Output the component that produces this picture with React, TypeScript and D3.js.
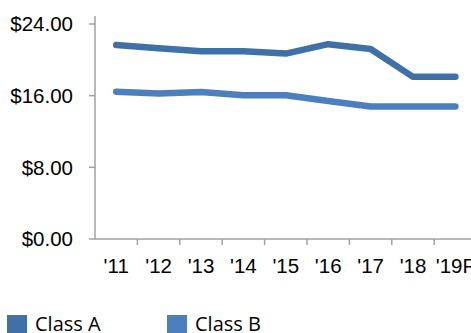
import { useEffect, useRef } from 'react';
import * as d3 from 'd3';

const categories = ["'11", "'12", "'13", "'14", "'15", "'16", "'17", "'18", "'19F"];
const classA = [21.65, 21.3, 20.95, 20.95, 20.7, 21.75, 21.2, 18.1, 18.1];
const classB = [16.45, 16.25, 16.4, 16.05, 16.05, 15.4, 14.8, 14.8, 14.8];
const yTicks = [0, 8, 16, 24];

const seriesNames = ['Class A', 'Class B'];
const seriesColors = ['#4070A8', '#4C7FBE'];

export default function App() {
  const svgRef = useRef<SVGSVGElement>(null);

  useEffect(() => {
    if (!svgRef.current) return;
    const width = 471;
    const height = 333;
    const svg = d3.select(svgRef.current);
    svg.selectAll('*').remove();

    const left = 95;
    const bandW = 42.4;
    const x = d3.scaleBand()
      .domain(categories)
      .range([left, left + bandW * categories.length])
      .padding(0);

    const y = d3.scaleLinear().domain([0, 24]).range([239, 24]);

    const axisColor = '#A0A0A0';

    // y axis
    svg.append('line')
      .attr('x1', left).attr('x2', left)
      .attr('y1', 16).attr('y2', y(0))
      .style('stroke', axisColor).style('stroke-width', 1.5);

    const yg = svg.append('g');
    yTicks.forEach(t => {
      yg.append('line')
        .attr('x1', left - 6).attr('x2', left)
        .attr('y1', y(t)).attr('y2', y(t))
        .style('stroke', axisColor).style('stroke-width', 1.5);
      yg.append('text')
        .attr('x', 73).attr('y', y(t)).attr('dy', '0.36em')
        .attr('text-anchor', 'end')
        .style('font-family', '"Liberation Sans", Arial, sans-serif')
        .style('font-size', '20.5px')
        .style('fill', '#000')
        .text(`$${t.toFixed(2)}`);
    });

    // x axis
    svg.append('line')
      .attr('x1', left).attr('x2', width + 10)
      .attr('y1', y(0)).attr('y2', y(0))
      .style('stroke', axisColor).style('stroke-width', 1.5);

    const xg = svg.append('g');
    categories.forEach((c, i) => {
      if (i > 0) {
        xg.append('line')
          .attr('x1', x(c)!).attr('x2', x(c)!)
          .attr('y1', y(0)).attr('y2', y(0) + 6)
          .style('stroke', axisColor).style('stroke-width', 1.5);
      }
      xg.append('text')
        .attr('x', x(c)! + x.bandwidth() / 2)
        .attr('y', 273)
        .attr('text-anchor', 'middle')
        .style('font-family', '"Liberation Sans", Arial, sans-serif')
        .style('font-size', '20.5px')
        .style('fill', '#000')
        .text(c);
    });
    const lastTick = x.range()[1];
    xg.append('line')
      .attr('x1', lastTick).attr('x2', lastTick)
      .attr('y1', y(0)).attr('y2', y(0) + 6)
      .style('stroke', axisColor).style('stroke-width', 1.5);

    // lines
    const line = d3.line<number>()
      .x((_, i) => x(categories[i])! + x.bandwidth() / 2)
      .y(d => y(d));

    [classA, classB].forEach((s, k) => {
      svg.append('path')
        .datum(s)
        .attr('d', line)
        .style('fill', 'none')
        .style('stroke', seriesColors[k])
        .style('stroke-width', 6.5)
        .style('stroke-linecap', 'round')
        .style('stroke-linejoin', 'round');
    });

    // legend
    const legendX = [7, 167];
    seriesNames.forEach((n, k) => {
      svg.append('rect')
        .attr('x', legendX[k]).attr('y', 315)
        .attr('width', 20).attr('height', 20)
        .style('fill', seriesColors[k]);
      svg.append('text')
        .attr('x', legendX[k] + 28).attr('y', 331)
        .style('font-family', '"Open Sans", "Noto Sans", sans-serif')
        .style('font-size', '20px')
        .style('fill', '#000')
        .text(n);
    });

    svg.attr('width', width).attr('height', height);
  }, []);

  return (
    <svg
      ref={svgRef}
      width={471}
      height={333}
      style={{ position: 'absolute', left: 0, top: 0, background: '#fff', overflow: 'hidden' }}
    />
  );
}
